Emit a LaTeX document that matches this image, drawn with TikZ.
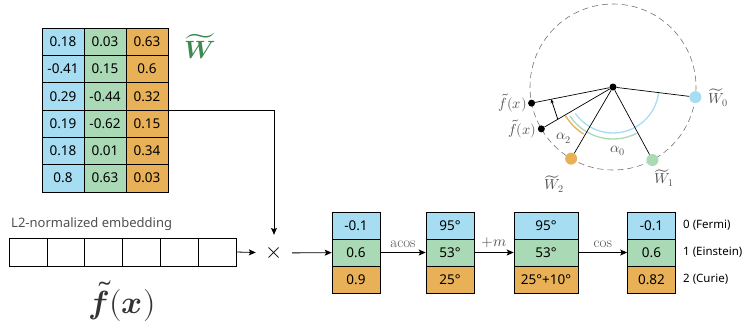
\documentclass[tikz,border=0pt]{standalone}
\usepackage{amsmath}
\usepackage{fontspec}
\usepackage{unicode-math}
\setmathfont{Latin Modern Math}
\setsansfont{Noto Sans}
\usepackage{tikz}
\usetikzlibrary{arrows.meta,calc}
\definecolor{cellblue}{RGB}{166,221,243}
\definecolor{cellgreen}{RGB}{169,217,181}
\definecolor{cellorange}{RGB}{233,177,87}
\definecolor{wgreen}{RGB}{62,139,82}
\definecolor{labelgray}{RGB}{80,80,80}
\tikzset{
 cell/.style={draw,line width=.6pt,inner sep=0pt,minimum width=42pt,minimum height=27.3pt},
 vcell/.style={draw,line width=.6pt,inner sep=0pt,minimum height=27pt},
 embcell/.style={draw,line width=.6pt,inner sep=0pt,minimum width=37.8pt,minimum height=28pt},
 arr/.style={-{Stealth[length=7pt,width=6pt,inset=1.5pt]},line width=.8pt},
 mlabel/.style={text=labelgray,font=\fontsize{14.5}{16}\selectfont},
 oplabel/.style={above=1pt,text=labelgray,font=\fontsize{15}{17}\selectfont},
 bdot/.style={circle,fill=black,inner sep=0pt,minimum size=7pt},
 cdot/.style={circle,inner sep=0pt,minimum size=12pt},
 ray/.style={line width=.7pt},
 angarc/.style={line width=1.3pt}
}

\begin{document}
\begin{tikzpicture}[x=1pt,y=-1pt,
 every node/.style={font=\sffamily\fontsize{13.5}{15}\selectfont}]
 \useasboundingbox (0,0) rectangle (744,333);
 % weight matrix
 \foreach \va/\vb/\vc [count=\r] in {0.18/0.03/0.63,-0.41/0.15/0.6,0.29/-0.44/0.32,
   0.19/-0.62/0.15,0.18/0.01/0.34,0.8/0.63/0.03}{
  \node[cell,fill=cellblue] (w-\r-1) at (63,{28+27.3*(\r-.5)}) {\va};
  \node[cell,fill=cellgreen] (w-\r-2) at (105,{28+27.3*(\r-.5)}) {\vb};
  \node[cell,fill=cellorange] (w-\r-3) at (147,{28+27.3*(\r-.5)}) {\vc};
 }
 \node[text=wgreen,font=\fontsize{25}{28}\selectfont] (wlab) at (200,46) {$\widetilde{\mathbfit{W}}$};
 % embedding
 \foreach \i in {0,...,5}
  \node[embcell] (e-\i) at ({9+37.8*(\i+.5)},252) {};
 \node[anchor=west,text=labelgray,inner sep=0pt,font=\sffamily\fontsize{13}{15}\selectfont] (elab) at (11,224) {L2-normalized embedding};
 \node[text=black!80,font=\fontsize{32}{36}\selectfont] (flab) at (122,301) {$\tilde{\mathbfit{f}}\mathbf{(}\mathbfit{x}\mathbf{)}$};
 \node[minimum size=36pt,inner sep=0pt,font=\fontsize{22}{24}\selectfont] (times) at (274,253) {$\times$};
 \draw[arr] (e-5.east) -- (times);
 \draw[arr] (w-3-3.south east) -| (times);
 % logits, angles, margin, output
 \foreach \nm/\cx/\bw/\va/\vb/\vc in {b1/356/48/-0.1/0.6/0.9,b2/450/48/95°/53°/25°,
   b3/546/64/95°/53°/25°+10°,b4/651.5/48/-0.1/0.6/0.82}{
  \node[vcell,minimum width=\bw pt,fill=cellblue] (\nm-1) at (\cx,225.5) {\va};
  \node[vcell,minimum width=\bw pt,fill=cellgreen] (\nm-2) at (\cx,252.5) {\vb};
  \node[vcell,minimum width=\bw pt,fill=cellorange] (\nm-3) at (\cx,279.5) {\vc};
 }
 \foreach \t [count=\r] in {0 (Fermi),1 (Einstein),2 (Curie)}
  \node[anchor=west,inner sep=0pt,font=\sffamily\fontsize{11.5}{13}\selectfont] (cls-\r) at (683,{198.5+27*\r}) {\t};
 \draw[arr] (times) -- (b1-2);
 \draw[arr] (b1-2) -- node[oplabel] {$\mathrm{acos}$} (b2-2);
 \draw[arr] (b2-2) -- node[oplabel] {$+m$} (b3-2);
 \draw[arr] (b3-2) -- node[oplabel] {$\cos$} (b4-2);
 % unit circle
 \coordinate (c) at (613,87);
 \draw[black!55,dash pattern=on 6pt off 4pt,line width=.6pt] (c) circle[radius=83];
 \draw[cellblue,angarc] (c) ++(145:46) arc[start angle=145,end angle=7,radius=46];
 \draw[cellgreen,angarc] (c) ++(146:52) arc[start angle=146,end angle=63,radius=52];
 \draw[cellorange,angarc] (c) ++(149:55.5) arc[start angle=149,end angle=122,radius=55.5];
 \node[bdot] (o) at (c) {};
 \node[bdot] (f1) at ($(c)+(168.8:83)$) {};
 \node[bdot] (f2) at ($(c)+(149.7:83)$) {};
 \node[cdot,fill=cellblue] (w0) at ($(c)+(7:83)$) {};
 \node[cdot,fill=cellgreen] (w1) at ($(c)+(61.6:83)$) {};
 \node[cdot,fill=cellorange] (w2) at ($(c)+(120.3:83)$) {};
 \foreach \p in {f1,f2,w0,w1,w2}
  \draw[ray] (o) -- (\p);
 \draw[-{Stealth[length=4pt,width=3.5pt]},line width=.8pt] ($(c)!0.77!(f2)$) -- ($(c)!0.76!(f1)$);
 \node[mlabel,anchor=east,inner sep=1pt] (f1l) at (f1.west) {$\tilde{f}(x)$};
 \node[mlabel,anchor=east,inner sep=1pt] (f2l) at (f2.west) {$\tilde{f}(x)$};
 \node[mlabel] (w0l) at (718,98) {$\widetilde{W}_0$};
 \node[mlabel] (w1l) at (664,178) {$\widetilde{W}_1$};
 \node[mlabel] (w2l) at (554,184) {$\widetilde{W}_2$};
 \node[mlabel] (a2l) at (564,138) {$\alpha_2$};
 \node[mlabel] (a0l) at (618,151) {$\alpha_0$};
\end{tikzpicture}
\end{document}
